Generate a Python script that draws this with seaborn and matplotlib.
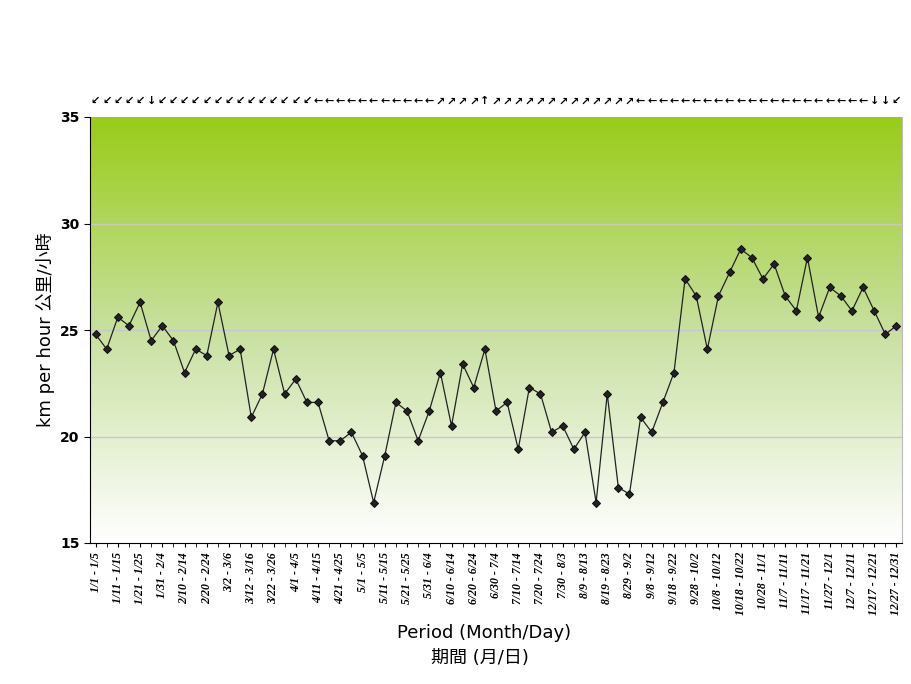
import numpy as np
import pandas as pd
import seaborn as sns
import matplotlib.pyplot as plt
from matplotlib import font_manager
from matplotlib.colors import LinearSegmentedColormap

# 5-day mean wind speed (km/h), 73 periods
speeds = [24.8, 24.1, 25.6, 25.2, 26.3, 24.5, 25.2, 24.5, 23.0, 24.1,
          23.8, 26.3, 23.8, 24.1, 20.9, 22.0, 24.1, 22.0, 22.7, 21.6,
          21.6, 19.8, 19.8, 20.2, 19.1, 16.9, 19.1, 21.6, 21.2, 19.8,
          21.2, 23.0, 20.5, 23.4, 22.3, 24.1, 21.2, 21.6, 19.4, 22.3,
          22.0, 20.2, 20.5, 19.4, 20.2, 16.9, 22.0, 17.6, 17.3, 20.9,
          20.2, 21.6, 23.0, 27.4, 26.6, 24.1, 26.6, 27.7, 28.8, 28.4,
          27.4, 28.1, 26.6, 25.9, 28.4, 25.6, 27.0, 26.6, 25.9, 27.0,
          25.9, 24.8, 25.2]

# prevailing wind direction per period
directions = (["↙"] * 5 + ["↓"] + ["↙"] * 14 + ["←"] * 11 + ["↗"] * 4 + ["↑"]
              + ["↗"] * 13 + ["←"] * 21 + ["↓", "↓", "↙"])

tick_labels = ["1/1 - 1/5", "1/11 - 1/15", "1/21 - 1/25", "1/31 - 2/4", "2/10 - 2/14",
               "2/20 - 2/24", "3/2 - 3/6", "3/12 - 3/16", "3/22 - 3/26", "4/1 - 4/5",
               "4/11 - 4/15", "4/21 - 4/25", "5/1 - 5/5", "5/11 - 5/15", "5/21 - 5/25",
               "5/31 - 6/4", "6/10 - 6/14", "6/20 - 6/24", "6/30 - 7/4", "7/10 - 7/14",
               "7/20 - 7/24", "7/30 - 8/3", "8/9 - 8/13", "8/19 - 8/23", "8/29 - 9/2",
               "9/8 - 9/12", "9/18 - 9/22", "9/28 - 10/2", "10/8 - 10/12", "10/18 - 10/22",
               "10/28 - 11/1", "11/7 - 11/11", "11/17 - 11/21", "11/27 - 12/1", "12/7 - 12/11",
               "12/17 - 12/21", "12/27 - 12/31"]

# pick whichever CJK font is available for the Chinese text
names = {f.name for f in font_manager.fontManager.ttflist}
cjk = next((c for c in ["Noto Sans CJK TC", "Noto Sans CJK JP", "Noto Sans CJK SC",
                        "Noto Sans CJK KR"] if c in names), None)
fams = ["DejaVu Sans"] + ([cjk] if cjk else [])
plt.rcParams["font.family"] = fams

df = pd.DataFrame({"period": np.arange(len(speeds)), "speed": speeds})
n = len(speeds)

fig = plt.figure(figsize=(9.12, 6.84), dpi=100)
ax = fig.add_axes([90/912, 141/684, 812/912, 426/684])

# green-to-white gradient background
cmap = LinearSegmentedColormap.from_list("bg", ["#ffffff", "#c8e0a0", "#99cc19"])
grad = np.linspace(0, 1, 256).reshape(-1, 1)
ax.imshow(grad, cmap=cmap, aspect="auto", origin="lower",
          extent=[-0.5, n - 0.5, 15, 35], zorder=0)

for y in [20, 25, 30]:
    ax.axhline(y, color="#c8c8c8", lw=1, zorder=1)

sns.lineplot(data=df, x="period", y="speed", ax=ax, color="#222222", lw=0.9,
             marker="D", markersize=4, markeredgecolor="#111111", zorder=3)

ax.set_xlim(-0.5, n - 0.5)
ax.set_ylim(15, 35)
ax.set_yticks([15, 20, 25, 30, 35])
ax.tick_params(axis="y", labelsize=10, length=4)
for t in ax.get_yticklabels():
    t.set_fontweight("bold")
ax.set_xticks(np.arange(n), minor=True)
ax.set_xticks(np.arange(0, n, 2))
ax.set_xticklabels(tick_labels, rotation=90, fontsize=8.5, fontweight="bold",
                   fontstyle="italic", family="Liberation Serif")
ax.tick_params(axis="x", which="both", length=3)
ax.spines["top"].set_visible(False)
ax.spines["right"].set_color("#bbbbbb")

for i, d in enumerate(directions):
    ax.text(i, 35.5, d, ha="center", va="bottom", fontsize=8, fontweight="bold")

ax.set_xlabel("")
ax.set_ylabel("km per hour 公里/小時", fontsize=13)
fig.text(484/912, 1 - 633/684, "Period (Month/Day)", ha="center", va="center", fontsize=13)
fig.text(480/912, 1 - 658/684, "期間 (月/日)", ha="center", va="center", fontsize=13)

fig.savefig("out.png", dpi=100)
